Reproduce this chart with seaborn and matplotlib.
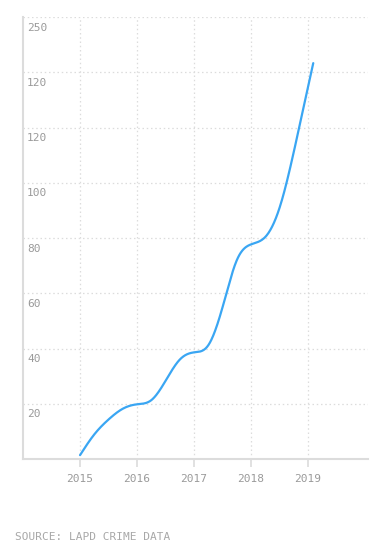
import numpy as np
import pandas as pd
import matplotlib
matplotlib.use("Agg")
import matplotlib.pyplot as plt
import matplotlib.transforms as mtransforms
import seaborn as sns

# ---- data ----
years = [2015.00, 2015.25, 2015.50, 2015.75, 2016.00, 2016.25, 2016.50, 2016.75,
         2017.00, 2017.25, 2017.50, 2017.75, 2018.00, 2018.25, 2018.50, 2018.75,
         2019.00, 2019.09]
values = [1.4, 8.9, 14.3, 18.2, 19.8, 21.3, 28.3, 36.0,
          38.6, 41.2, 55.0, 72.0, 77.7, 80.4, 91.0, 111.3,
          134.9, 143.3]
xtick_values = [2015, 2016, 2017, 2018, 2019]
xtick_labels = ["2015", "2016", "2017", "2018", "2019"]
ytick_values = [20, 40, 60, 80, 100, 120, 140, 160]
ytick_labels = ["20", "40", "60", "80", "100", "120", "120", "250"]
source_text = "SOURCE: LAPD CRIME DATA"


def natural_spline(x, y, xn):
    x = np.asarray(x, float); y = np.asarray(y, float)
    n = len(x); h = np.diff(x)
    A = np.zeros((n, n)); b = np.zeros(n)
    A[0, 0] = 1; A[-1, -1] = 1
    for i in range(1, n - 1):
        A[i, i - 1] = h[i - 1]
        A[i, i] = 2 * (h[i - 1] + h[i])
        A[i, i + 1] = h[i]
        b[i] = 3 * ((y[i + 1] - y[i]) / h[i] - (y[i] - y[i - 1]) / h[i - 1])
    c = np.linalg.solve(A, b)
    bb = (y[1:] - y[:-1]) / h - h * (2 * c[:-1] + c[1:]) / 3
    d = (c[1:] - c[:-1]) / (3 * h)
    idx = np.clip(np.searchsorted(x, xn) - 1, 0, n - 2)
    t = xn - x[idx]
    return y[idx] + bb[idx] * t + c[idx] * t**2 + d[idx] * t**3


xs = np.linspace(years[0], years[-1], 500)
df = pd.DataFrame({"year": xs, "value": natural_spline(years, values, xs)})

sns.set_theme(style="white")
plt.rcParams["font.family"] = ["DejaVu Sans Mono", "DejaVu Sans"]

fig = plt.figure(figsize=(3.91, 5.57), dpi=100)
ax = fig.add_axes([23 / 391, 1 - 459 / 557, (368 - 23) / 391, (459 - 17) / 557])

sns.lineplot(data=df, x="year", y="value", ax=ax, color="#3aa6f3", linewidth=1.6)

ax.set_xlim(2014.0, 2020.05)
ax.set_ylim(0, 160)
ax.set_xlabel("")
ax.set_ylabel("")

grid_c = "#dcdcdc"
ax.set_xticks(xtick_values)
ax.set_xticklabels(xtick_labels)
ax.set_yticks(ytick_values)
ax.set_yticklabels([])
ax.grid(True, color=grid_c, linestyle=(0, (1.2, 2.2)), linewidth=0.9)
ax.tick_params(axis="x", length=6, width=1.2, color=grid_c, pad=5,
               labelsize=8, labelcolor="#9a9a9a", bottom=True)
ax.tick_params(axis="y", length=0)

for s in ["top", "right"]:
    ax.spines[s].set_visible(False)
for s in ["left", "bottom"]:
    ax.spines[s].set_color(grid_c)
    ax.spines[s].set_linewidth(1.5)

trans = mtransforms.blended_transform_factory(ax.transAxes, ax.transData) + \
    mtransforms.ScaledTranslation(3 / 72, -4 / 72, fig.dpi_scale_trans)
for v, lab in zip(ytick_values, ytick_labels):
    ax.text(0, v, lab, transform=trans, ha="left", va="top",
            fontsize=8, color="#9a9a9a")

fig.text(15 / 391, 1 - 537 / 557, source_text, ha="left", va="center",
         fontsize=8, color="#a8a8a8")

fig.savefig("out.png", dpi=100)
